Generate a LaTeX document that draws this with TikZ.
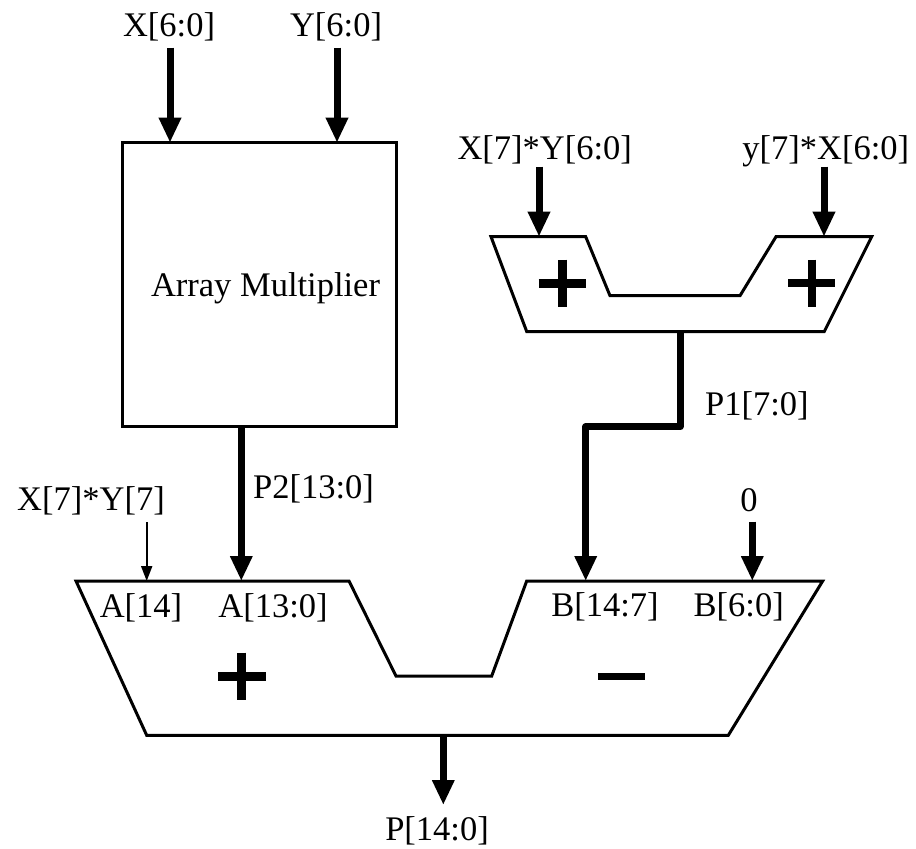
\documentclass[tikz,border=0pt]{standalone}
\usepackage{fontspec}
\setmainfont{Liberation Serif}
\usetikzlibrary{arrows.meta}
\begin{document}
\begin{tikzpicture}[x=1pt,y=-1pt,
  lbl/.style={inner sep=0pt,font=\fontsize{34.5pt}{40pt}\selectfont},
  bus/.style={line width=7pt,-{Triangle[width=21pt,length=25pt]},line join=round},
  wire/.style={line width=2pt,-{Triangle[width=11pt,length=15pt]}},
  unit/.style={line width=3pt,line join=miter},
  sign/.style={line width=9pt}]
\fill[white] (0,0) rectangle (916,849);
\useasboundingbox (0,0) rectangle (916,849);

% Array multiplier
\node[draw,unit,minimum width=273.7pt,minimum height=283.3pt,inner sep=0pt] (am) at (259.15,284.35) {};
\node[lbl,anchor=base] (amt) at (265.5,296.7) {Array Multiplier};

% top inputs
\node[lbl,anchor=base] (xin) at (169,36.7) {X[6:0]};
\node[lbl,anchor=base] (yin) at (336,36.7) {Y[6:0]};
\coordinate (xs) at (170,47.7);
\coordinate (ys) at (337,47.7);
\coordinate (xt) at (170,142.7);
\coordinate (yt) at (337,142.7);
\draw[bus] (xs) -- (xt);
\draw[bus] (ys) -- (yt);

% top adder pair
\draw[unit] (491,236.7) -- (585.7,236.7) -- (610,295.7) -- (740,295.7) -- (776,236.7)
  -- (871.7,236.7) -- (824.3,331.5) -- (526.7,331.5) -- cycle;
\coordinate (ad1) at (539,236.7);
\coordinate (ad2) at (824,236.7);
\coordinate (adout) at (680,331.5);
\node[lbl,anchor=base] (xy) at (544.7,159) {X[7]*Y[6:0]};
\node[lbl,anchor=base] (yx) at (825.8,159) {y[7]*X[6:0]};
\coordinate (xys) at (539,166.7);
\coordinate (yxs) at (824,166.7);
\draw[bus] (xys) -- (ad1);
\draw[bus] (yxs) -- (ad2);
\draw[sign] (538.5,283) -- (585.5,283) (562,259.5) -- (562,306.5);
\draw[line width=8pt] (788.2,283) -- (835.2,283) (811.7,259.5) -- (811.7,306.5);

% bottom adder/subtractor
\draw[unit] (76,581) -- (349,581) -- (396,676) -- (491.7,676) -- (526.7,581)
  -- (822.7,581) -- (728.3,735.3) -- (146.7,735.3) -- cycle;
\coordinate (a14) at (146.7,581);
\coordinate (a13) at (241.3,581);
\coordinate (b14) at (585.7,581);
\coordinate (b6) at (752.3,581);
\coordinate (bout) at (443.3,735.3);

\node[lbl,anchor=base] (la14) at (141,617.7) {A[14]};
\node[lbl,anchor=base] (la13) at (273,617.7) {A[13:0]};
\node[lbl,anchor=base] (lb14) at (605,616.7) {B[14:7]};
\node[lbl,anchor=base] (lb6) at (738.7,616.7) {B[6:0]};
\draw[sign] (218,676) -- (265.5,676) (241.7,652.5) -- (241.7,699.5);
\draw[line width=7pt] (598,676) -- (645.3,676);

% P2
\coordinate (amb) at (241.3,426);
\draw[bus] (amb) -- (a13);
\node[lbl,anchor=base west] (p2) at (253,498) {P2[13:0]};

% X[7]*Y[7]
\node[lbl,anchor=base] (xy7) at (91,510.7) {X[7]*Y[7]};
\coordinate (xy7s) at (146.7,522);
\draw[wire] (xy7s) -- (a14);

% P1
\coordinate (p1b) at (680,426.7);
\coordinate (p1c) at (585.7,426.7);
\draw[bus] (adout) -- (p1b) -- (p1c) -- (b14);
\node[lbl,anchor=base west] (p1) at (705,415.7) {P1[7:0]};

% zero
\node[lbl,anchor=base] (zero) at (749,511) {0};
\coordinate (zs) at (752.3,521.7);
\draw[bus] (zs) -- (b6);

% output
\coordinate (pe) at (443.3,805);
\draw[bus] (bout) -- (pe);
\node[lbl,anchor=base] (pout) at (437,840) {P[14:0]};
\end{tikzpicture}
\end{document}
